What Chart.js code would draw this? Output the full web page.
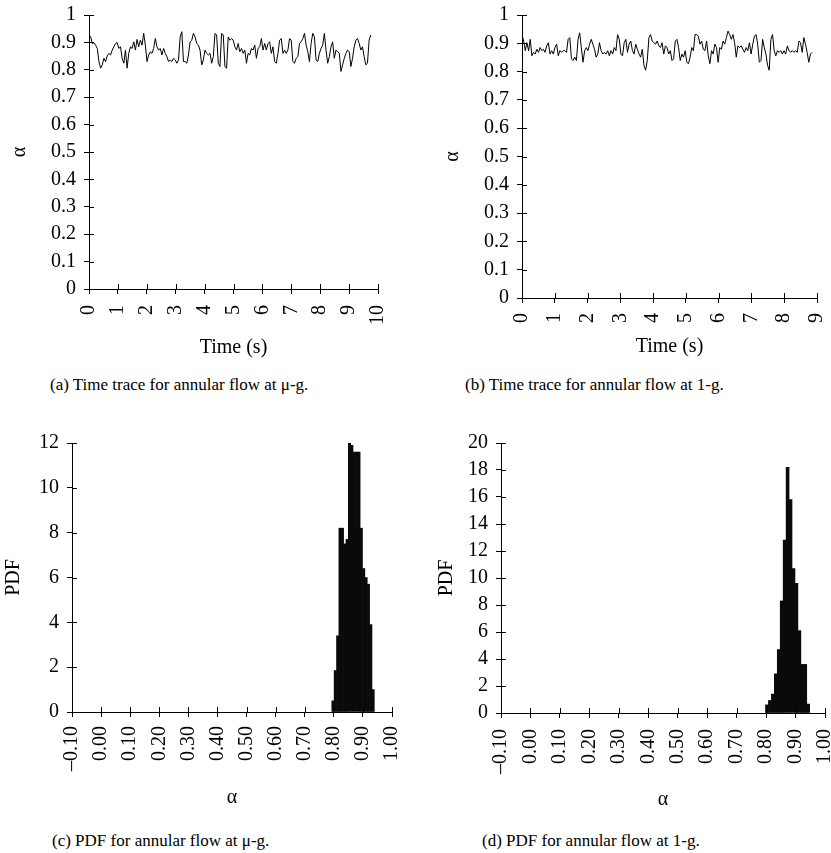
<!DOCTYPE html>
<html>
<head>
<meta charset="utf-8">
<script src="https://cdn.jsdelivr.net/npm/chart.js@4/dist/chart.umd.min.js"></script>
<style>
html,body{margin:0;padding:0;background:#fff;}
body{width:831px;height:853px;position:relative;overflow:hidden;font-family:"Liberation Serif","DejaVu Serif",serif;color:#000;}
.panel{position:absolute;}
.panel canvas{display:block;}
.cap{position:absolute;font-size:17px;line-height:20px;white-space:nowrap;}
</style>
</head>
<body>
<div class="panel" style="left:0;top:0;"><canvas id="ca" width="415" height="365"></canvas></div>
<div class="panel" style="left:415px;top:0;"><canvas id="cb" width="416" height="365"></canvas></div>
<div class="panel" style="left:0;top:425px;"><canvas id="cc" width="415" height="395"></canvas></div>
<div class="panel" style="left:415px;top:425px;"><canvas id="cd" width="416" height="395"></canvas></div>
<div class="cap" style="left:50px;top:375px;">(a) Time trace for annular flow at μ-g.</div>
<div class="cap" style="left:465px;top:375px;">(b) Time trace for annular flow at 1-g.</div>
<div class="cap" style="left:52px;top:831px;">(c) PDF for annular flow at μ-g.</div>
<div class="cap" style="left:482px;top:831px;">(d) PDF for annular flow at 1-g.</div>
<script>
// ---------- data ----------
const traceYTicks = [0, 0.1, 0.2, 0.3, 0.4, 0.5, 0.6, 0.7, 0.8, 0.9, 1];
const traceYLabels = ['0', '0.1', '0.2', '0.3', '0.4', '0.5', '0.6', '0.7', '0.8', '0.9', '1'];
const timeTicksA = [0, 1, 2, 3, 4, 5, 6, 7, 8, 9, 10];
const timeTicksB = [0, 1, 2, 3, 4, 5, 6, 7, 8, 9];
const traceAEndTime = 9.75;   // s, last sample of trace (a)
const traceBEndTime = 8.85;   // s, last sample of trace (b)

// void fraction, annular flow at micro-g (uniformly sampled)
const traceA = [0.927,0.920,0.896,0.899,0.890,0.878,0.830,0.806,0.818,0.842,0.830,0.851,0.860,0.854,0.872,0.884,0.896,0.899,0.878,0.884,0.842,0.824,0.872,0.806,0.860,0.884,0.878,0.902,0.872,0.911,0.884,0.908,0.890,0.933,0.890,0.830,0.854,0.866,0.860,0.878,0.914,0.884,0.872,0.878,0.854,0.878,0.860,0.848,0.830,0.836,0.830,0.842,0.836,0.824,0.836,0.920,0.939,0.830,0.830,0.824,0.854,0.902,0.908,0.933,0.920,0.896,0.890,0.872,0.818,0.836,0.872,0.860,0.854,0.860,0.824,0.848,0.933,0.927,0.824,0.812,0.933,0.927,0.812,0.806,0.920,0.908,0.914,0.908,0.884,0.872,0.896,0.866,0.878,0.860,0.872,0.824,0.860,0.854,0.878,0.872,0.890,0.842,0.878,0.884,0.914,0.872,0.896,0.872,0.896,0.902,0.860,0.884,0.830,0.824,0.860,0.908,0.914,0.860,0.872,0.860,0.872,0.914,0.908,0.830,0.824,0.842,0.848,0.896,0.902,0.914,0.933,0.890,0.866,0.830,0.896,0.933,0.920,0.836,0.830,0.860,0.878,0.890,0.933,0.872,0.824,0.848,0.884,0.902,0.842,0.872,0.866,0.860,0.794,0.818,0.842,0.860,0.872,0.866,0.812,0.842,0.884,0.908,0.914,0.896,0.872,0.884,0.848,0.818,0.824,0.908,0.927];

// void fraction, annular flow at 1-g (uniformly sampled)
const traceB = [0.931,0.908,0.874,0.902,0.874,0.914,0.856,0.868,0.862,0.879,0.868,0.885,0.874,0.879,0.868,0.891,0.902,0.862,0.874,0.862,0.885,0.897,0.856,0.874,0.868,0.874,0.874,0.868,0.914,0.920,0.845,0.839,0.851,0.839,0.914,0.937,0.885,0.833,0.874,0.885,0.874,0.897,0.914,0.897,0.879,0.851,0.862,0.902,0.874,0.862,0.868,0.862,0.874,0.856,0.874,0.862,0.885,0.874,0.931,0.914,0.862,0.856,0.902,0.914,0.868,0.897,0.908,0.874,0.862,0.897,0.879,0.862,0.851,0.879,0.822,0.805,0.839,0.920,0.931,0.908,0.902,0.897,0.908,0.891,0.885,0.902,0.862,0.891,0.885,0.862,0.874,0.839,0.845,0.908,0.914,0.885,0.839,0.862,0.851,0.874,0.833,0.828,0.851,0.885,0.874,0.931,0.931,0.925,0.897,0.908,0.879,0.874,0.908,0.856,0.828,0.874,0.862,0.897,0.885,0.833,0.885,0.879,0.908,0.897,0.920,0.943,0.931,0.914,0.931,0.902,0.851,0.891,0.885,0.891,0.879,0.868,0.885,0.874,0.902,0.862,0.897,0.925,0.931,0.897,0.833,0.839,0.914,0.885,0.862,0.822,0.805,0.914,0.931,0.874,0.856,0.874,0.868,0.874,0.862,0.874,0.862,0.891,0.874,0.868,0.874,0.868,0.874,0.868,0.908,0.902,0.868,0.920,0.897,0.868,0.833,0.862,0.868];

const pdfXTicks = [-0.1, 0, 0.1, 0.2, 0.3, 0.4, 0.5, 0.6, 0.7, 0.8, 0.9, 1.0];
const pdfXLabels = ['\u20130.10', '0.00', '0.10', '0.20', '0.30', '0.40', '0.50', '0.60', '0.70', '0.80', '0.90', '1.00'];
const pdfYTicksC = [0, 2, 4, 6, 8, 10, 12];
const pdfYTicksD = [0, 2, 4, 6, 8, 10, 12, 14, 16, 18, 20];

const binCentersC = [0.7971,0.8052,0.8133,0.8214,0.8296,0.8377,0.8458,0.8539,0.8620,0.8702,0.8783,0.8864,0.8945,0.9026,0.9108,0.9189,0.9270,0.9351];
const pdfC = [0.5,1.85,3.4,8.2,8.2,7.5,7.7,12.0,11.9,11.6,11.6,11.6,8.2,6.4,6.0,5.7,3.9,1.0];

const binCentersD = [0.803,0.813,0.823,0.833,0.843,0.853,0.863,0.873,0.883,0.893,0.903,0.913,0.923,0.933,0.943];
const pdfD = [0.6,0.93,1.4,2.9,4.7,8.3,12.8,18.2,15.8,10.7,9.6,6.1,3.6,3.6,0.66];

// ---------- rendering ----------
Chart.defaults.font.family = "'Liberation Serif','DejaVu Serif',serif";
Chart.defaults.font.size = 20;
Chart.defaults.color = '#000';

const TICK = 5;
const crossTicks = {
  id: 'crossTicks',
  afterDraw(chart) {
    const {ctx, chartArea} = chart;
    const xs = chart.scales.x, ys = chart.scales.y;
    ctx.save();
    ctx.strokeStyle = '#000';
    ctx.lineWidth = 1;
    ctx.beginPath();
    xs.ticks.forEach(t => {
      const px = Math.round(xs.getPixelForValue(t.value)) + 0.5;
      ctx.moveTo(px, chartArea.bottom);
      ctx.lineTo(px, chartArea.bottom - TICK);
    });
    ys.ticks.forEach(t => {
      const py = Math.round(ys.getPixelForValue(t.value)) + 0.5;
      ctx.moveTo(chartArea.left, py);
      ctx.lineTo(chartArea.left + TICK, py);
    });
    ctx.stroke();
    ctx.restore();
  }
};

function axisBase() {
  return {
    grid: {display: true, drawOnChartArea: false, drawTicks: true, tickLength: TICK, color: '#000', lineWidth: 1},
    border: {display: true, color: '#000', width: 1}
  };
}

function makeChart(id, type, dataset, g) {
  const xAxis = Object.assign(axisBase(), {
    type: 'linear', min: g.xTicks[0], max: g.xTicks[g.xTicks.length - 1],
    offset: false,
    afterBuildTicks: s => { s.ticks = g.xTicks.map(v => ({value: v})); },
    afterFit: s => { s.height = g.xH; s.paddingLeft = 0; s.paddingRight = 0; },
    ticks: {autoSkip: false, minRotation: 90, maxRotation: 90, padding: g.xPad,
            callback: (v, i) => g.xLabels[i]},
    title: {display: true, text: g.xTitle, font: {size: 20}, padding: {top: 0, bottom: g.xTitlePad}}
  });
  xAxis.grid.offset = false;
  const yAxis = Object.assign(axisBase(), {
    type: 'linear', min: g.yTicks[0], max: g.yTicks[g.yTicks.length - 1],
    afterBuildTicks: s => { s.ticks = g.yTicks.map(v => ({value: v})); },
    afterFit: s => { s.width = g.yW; s.paddingTop = 0; s.paddingBottom = 0; },
    ticks: {autoSkip: false, padding: 8, callback: (v, i) => g.yLabels[i]},
    title: {display: true, text: g.yTitle, font: {size: 20}, padding: {top: g.yTitlePad, bottom: 0}}
  });
  return new Chart(document.getElementById(id), {
    type: type,
    data: {datasets: [dataset]},
    options: {
      responsive: false,
      animation: false,
      layout: {padding: {left: 0, top: g.top, right: g.right, bottom: 0}},
      plugins: {legend: {display: false}, tooltip: {enabled: false}},
      scales: {x: xAxis, y: yAxis}
    },
    plugins: [crossTicks]
  });
}

function tracePoints(values, endTime) {
  return values.map((v, i) => ({x: i * endTime / (values.length - 1), y: v}));
}
function binPoints(centers, values) {
  return centers.map((c, i) => ({x: c, y: values[i]}));
}

const lineStyle = {borderColor: '#000', borderWidth: 1, pointRadius: 0, tension: 0, fill: false};
const barStyle = {backgroundColor: '#0a0a0a', borderWidth: 0, barPercentage: 1, categoryPercentage: 1};

makeChart('ca', 'line', Object.assign({data: tracePoints(traceA, traceAEndTime)}, lineStyle), {
  xTicks: timeTicksA, xLabels: timeTicksA.map(String), xTitle: 'Time (s)',
  yTicks: traceYTicks, yLabels: traceYLabels, yTitle: 'α',
  top: 15, right: 37, xH: 76, yW: 89, xPad: 11, xTitlePad: 5, yTitlePad: 8
});
makeChart('cb', 'line', Object.assign({data: tracePoints(traceB, traceBEndTime)}, lineStyle), {
  xTicks: timeTicksB, xLabels: timeTicksB.map(String), xTitle: 'Time (s)',
  yTicks: traceYTicks, yLabels: traceYLabels, yTitle: 'α',
  top: 15, right: 14, xH: 67, yW: 107, xPad: 10, xTitlePad: 6, yTitlePad: 26
});
makeChart('cc', 'bar', Object.assign({data: binPoints(binCentersC, pdfC)}, barStyle), {
  xTicks: pdfXTicks, xLabels: pdfXLabels, xTitle: 'α',
  yTicks: pdfYTicksC, yLabels: pdfYTicksC.map(String), yTitle: 'PDF',
  top: 18, right: 23, xH: 108, yW: 72, xPad: 9, xTitlePad: 10, yTitlePad: 2
});
makeChart('cd', 'bar', Object.assign({data: binPoints(binCentersD, pdfD)}, barStyle), {
  xTicks: pdfXTicks, xLabels: pdfXLabels, xTitle: 'α',
  yTicks: pdfYTicksD, yLabels: pdfYTicksD.map(String), yTitle: 'PDF',
  top: 18, right: 6, xH: 107, yW: 86, xPad: 11, xTitlePad: 8, yTitlePad: 20
});
</script>
</body>
</html>
